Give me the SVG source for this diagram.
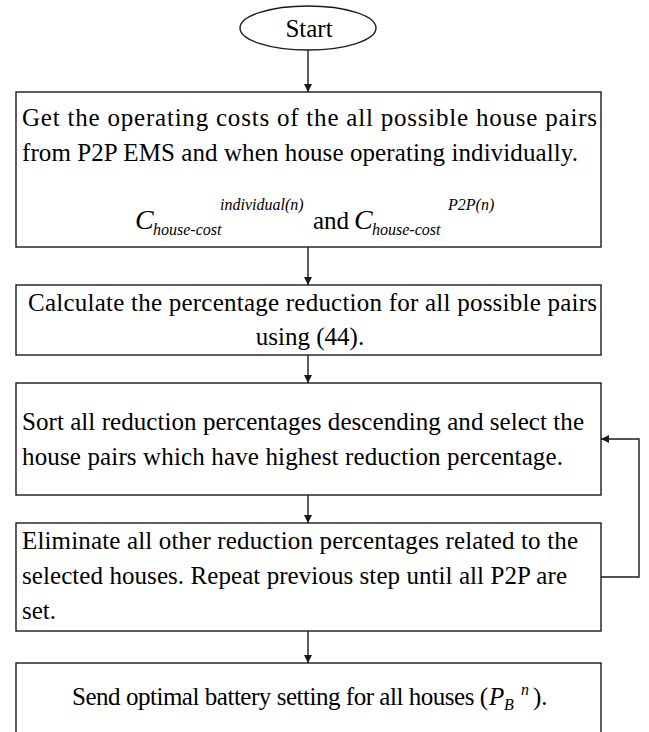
<svg xmlns="http://www.w3.org/2000/svg" width="649" height="732" viewBox="0 0 649 732">
<defs>
<style>
.box{fill:#fff;stroke:#1a1a1a;stroke-width:1.4}
.t{font-family:"Liberation Serif","Times New Roman",serif;font-size:25px;fill:#000}
.i{font-style:italic}
.s{font-size:16px;font-style:italic}
.c{text-anchor:middle}
.ln{fill:none;stroke:#1a1a1a;stroke-width:1.4}
</style>
<marker id="ah" viewBox="0 0 10 10" refX="10" refY="5" markerWidth="8" markerHeight="8" markerUnits="userSpaceOnUse" orient="auto">
<path d="M0,0 L10,5 L0,10 z" fill="#1a1a1a"/>
</marker>
</defs>
<rect width="649" height="732" fill="#fff"/>
<g id="start">
<ellipse class="box" cx="308" cy="28" rx="68" ry="22"/>
<text class="t c" x="309" y="37">Start</text>
</g>
<g id="get-costs">
<rect class="box" x="16" y="92" width="585" height="155"/>
<text class="t" x="22" y="126" textLength="575">Get the operating costs of the all possible house pairs</text>
<text class="t" x="22" y="161" textLength="556">from P2P EMS and when house operating individually.</text>
<text class="t"><tspan class="i" x="135" y="229" font-size="28">C</tspan><tspan class="s" x="153" y="235">house-cost</tspan><tspan class="s" x="220" y="210">individual(n)</tspan><tspan x="313" y="229">and</tspan><tspan class="i" x="354" y="229" font-size="28">C</tspan><tspan class="s" x="372" y="235">house-cost</tspan><tspan class="s" x="448" y="210">P2P(n)</tspan></text>
</g>
<g id="calc">
<rect class="box" x="16" y="285" width="585" height="70"/>
<text class="t" x="28" y="311" textLength="569">Calculate the percentage reduction for all possible pairs</text>
<text class="t c" x="310" y="345">using (44).</text>
</g>
<g id="sort">
<rect class="box" x="16" y="383" width="585" height="112"/>
<text class="t" x="22" y="430" textLength="562">Sort all reduction percentages descending and select the</text>
<text class="t" x="22" y="465" textLength="541">house pairs which have highest reduction percentage.</text>
</g>
<g id="eliminate">
<rect class="box" x="16" y="523" width="585" height="108"/>
<text class="t" x="22" y="549" textLength="556">Eliminate all other reduction percentages related to the</text>
<text class="t" x="22" y="584" textLength="545">selected houses. Repeat previous step until all P2P are</text>
<text class="t" x="22" y="619">set.</text>
</g>
<g id="send">
<rect class="box" x="16" y="663" width="585" height="80"/>
<text class="t" x="72" y="705" textLength="416">Send optimal battery setting for all houses (</text>
<text class="t"><tspan class="i" x="489" y="705">P</tspan><tspan class="s" x="504" y="710">B</tspan><tspan class="s" x="521" y="695">n</tspan><tspan x="533" y="705">).</tspan></text>
</g>
<g id="connectors">
<line class="ln" x1="308" y1="50" x2="308" y2="92" marker-end="url(#ah)"/>
<line class="ln" x1="308" y1="247" x2="308" y2="285" marker-end="url(#ah)"/>
<line class="ln" x1="308" y1="355" x2="308" y2="383" marker-end="url(#ah)"/>
<line class="ln" x1="308" y1="495" x2="308" y2="523" marker-end="url(#ah)"/>
<line class="ln" x1="308" y1="631" x2="308" y2="663" marker-end="url(#ah)"/>
<polyline class="ln" points="601,577 639,577 639,439 601,439" marker-end="url(#ah)"/>
</g>
</svg>
